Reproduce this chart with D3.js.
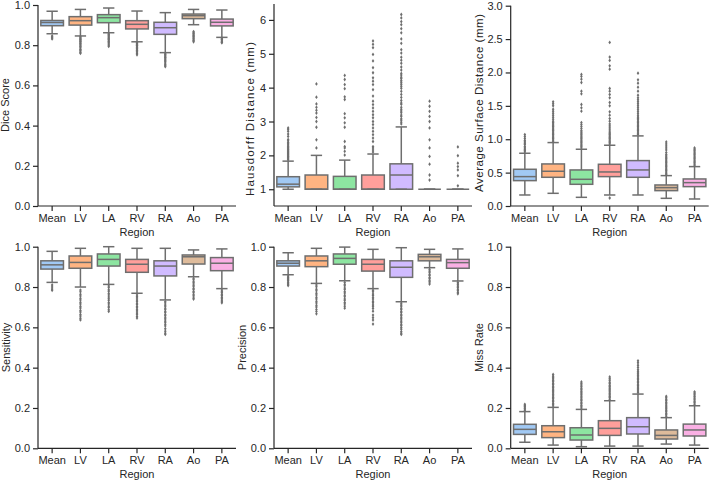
<!DOCTYPE html>
<html><head><meta charset="utf-8">
<script src="https://cdn.jsdelivr.net/npm/d3@7"></script>
<style>
body{margin:0;background:#fff;}
svg text{font-family:"Liberation Sans",Arial,sans-serif;fill:#262626;}
</style></head>
<body><svg id="c" width="709" height="481"></svg>
<script>
// ---------- DATA ----------
const regions = ["Mean","LV","LA","RV","RA","Ao","PA"];

// [lower whisker, Q1, median, Q3, upper whisker]
const diceStats = [[0.857,0.897,0.913,0.923,0.969],[0.846,0.900,0.922,0.942,0.978],[0.862,0.912,0.937,0.952,0.985],[0.817,0.881,0.904,0.922,0.970],[0.763,0.854,0.887,0.914,0.962],[0.902,0.932,0.947,0.955,0.978],[0.839,0.896,0.914,0.930,0.975]];
const diceOutliers = [
 [0.846,0.841,0.836,0.831],
 [0.843,0.838,0.833,0.829,0.826,0.821,0.818,0.812,0.808,0.804,0.797,0.793,0.787,0.780,0.776,0.771,0.764,0.760],
 [0.858,0.853,0.850,0.845,0.840,0.835,0.831,0.827,0.821,0.817,0.812,0.806,0.800,0.794],
 [0.813,0.809,0.804,0.800,0.797,0.791,0.786,0.781,0.775,0.771,0.766,0.759,0.752],
 [0.758,0.754,0.749,0.743,0.739,0.735,0.728,0.723,0.718,0.711,0.704,0.698,0.693],
 [0.868,0.862,0.858,0.852,0.847,0.843,0.837,0.832,0.826,0.822,0.817],
 [0.835,0.830,0.826,0.820,0.815,0.812]];

const hausStats = [[1.0,1.07,1.15,1.37,1.83],[1.0,1.0,1.0,1.42,2.0],[1.0,1.0,1.0,1.38,1.86],[1.0,1.0,1.0,1.42,2.04],[1.0,1.0,1.42,1.75,2.84],[1.0,1.0,1.0,1.0,1.0],[1.0,1.0,1.0,1.0,1.0]];
const hausOutliers = [
 [1.87,1.9,1.94,1.97,1.99,2.03,2.05,2.09,2.11,2.15,2.17,2.21,2.24,2.27,2.31,2.34,2.38,2.43,2.47,2.56,2.63,2.71,2.77,2.81],
 [2.22,2.46,2.83,3.0,3.12,3.25,3.33,3.42,3.52,3.72,4.11],
 [2.01,2.12,2.22,2.26,2.41,2.83,2.96,3.11,3.23,3.65,3.73,3.97,4.09,4.24,4.36],
 [2.1,2.16,2.22,2.26,2.41,2.51,2.61,2.71,2.81,2.91,3.0,3.11,3.2,3.3,3.4,3.5,3.6,3.75,3.94,4.09,4.19,4.29,4.44,4.59,4.79,4.98,5.18,5.28,5.38],
 [2.93,2.98,3.04,3.08,3.15,3.19,3.26,3.31,3.36,3.42,3.51,3.55,3.62,3.71,3.8,3.89,3.98,4.04,4.1,4.16,4.21,4.27,4.31,4.37,4.42,4.52,4.61,4.72,4.81,4.9,5.02,5.12,5.31,5.44,5.62,5.74,5.86,5.95,6.06,6.16],
 [1.27,1.42,1.74,1.97,2.22,2.46,2.81,3.0,3.15,3.3,3.45,3.6],
 [1.1,1.4,1.57,1.67,1.77,1.99,2.25]];

const asdStats = [[0.165,0.38,0.44,0.55,0.79],[0.19,0.43,0.52,0.63,0.95],[0.13,0.325,0.40,0.54,0.85],[0.165,0.44,0.51,0.625,0.91],[0.165,0.43,0.54,0.68,1.05],[0.115,0.23,0.275,0.315,0.455],[0.105,0.29,0.35,0.405,0.59]];
const asdOutliers = [
 [0.81,0.83,0.85,0.87,0.89,0.92,0.94,0.96,0.98,1.01,1.04,1.07],
 [0.97,0.99,1.01,1.03,1.05,1.07,1.09,1.11,1.13,1.15,1.17,1.19,1.21,1.23,1.25,1.27,1.3,1.33,1.36,1.39,1.42,1.45,1.5,1.53,1.56],
 [0.87,0.89,0.91,0.93,0.95,0.97,0.99,1.01,1.03,1.05,1.07,1.09,1.11,1.13,1.16,1.19,1.22,1.25,1.42,1.47,1.52,1.68,1.72,1.85,1.9,1.94,1.97],
 [0.12,0.93,0.95,0.97,0.99,1.01,1.03,1.05,1.07,1.09,1.11,1.14,1.17,1.2,1.23,1.27,1.31,1.36,1.41,1.5,1.55,1.62,1.67,1.72,1.76,2.05,2.1,2.18,2.23,2.45],
 [1.07,1.09,1.11,1.13,1.15,1.17,1.19,1.21,1.23,1.25,1.27,1.29,1.31,1.33,1.35,1.38,1.41,1.44,1.47,1.5,1.53,1.56,1.59,1.62,1.66,1.72,1.78,1.84,1.89,1.99],
 [0.47,0.49,0.51,0.53,0.55,0.57,0.59,0.61,0.63,0.65,0.67,0.69,0.71,0.73,0.75,0.77,0.8,0.84,0.87,0.9,0.93,0.96],
 [0.61,0.63,0.65,0.67,0.69,0.71,0.73,0.75,0.77,0.79,0.81,0.83,0.85,0.87]];

const sensStats = [[0.823,0.889,0.91,0.93,0.977],[0.80,0.893,0.922,0.954,0.992],[0.813,0.904,0.937,0.964,1.0],[0.769,0.873,0.913,0.937,0.992],[0.736,0.855,0.904,0.930,0.992],[0.851,0.914,0.95,0.959,0.984],[0.792,0.881,0.918,0.946,0.989]];
const sensOutliers = [
 [0.81,0.80,0.79,0.784],
 [0.785,0.776,0.764,0.756,0.744,0.736,0.724,0.716,0.704,0.696,0.684,0.676,0.664,0.656,0.645,0.637],
 [0.805,0.797,0.786,0.779,0.768,0.761,0.751,0.742,0.734,0.723,0.716,0.705,0.698,0.687,0.679],
 [0.761,0.752,0.745,0.735,0.729,0.719,0.713,0.703,0.697,0.687,0.681,0.671,0.665,0.654,0.646],
 [0.728,0.721,0.711,0.705,0.695,0.689,0.679,0.673,0.663,0.657,0.647,0.641,0.631,0.625,0.615,0.607,0.593,0.581,0.571,0.565],
 [0.843,0.836,0.826,0.82,0.81,0.804,0.794,0.788,0.778,0.772,0.762,0.756,0.746,0.74],
 [0.785,0.777,0.772,0.763,0.758,0.749,0.744,0.735,0.73,0.722]];

const precStats = [[0.861,0.904,0.918,0.930,0.970],[0.818,0.901,0.930,0.954,0.992],[0.831,0.913,0.942,0.964,0.998],[0.792,0.879,0.913,0.937,0.987],[0.727,0.848,0.898,0.930,0.995],[0.896,0.930,0.950,0.962,0.987],[0.830,0.893,0.921,0.937,0.989]];
const precOutliers = [
 [0.855,0.848,0.843,0.836,0.831,0.824,0.819,0.812,0.807],
 [0.81,0.801,0.789,0.781,0.769,0.761,0.749,0.741,0.729,0.721,0.709,0.701,0.689,0.679,0.667],
 [0.823,0.813,0.806,0.795,0.788,0.777,0.77,0.759,0.752,0.741,0.734,0.723,0.716,0.705,0.695],
 [0.784,0.776,0.765,0.758,0.747,0.74,0.729,0.722,0.711,0.704,0.694,0.68,0.661,0.648,0.636,0.616],
 [0.72,0.711,0.705,0.695,0.689,0.679,0.673,0.663,0.657,0.647,0.641,0.631,0.625,0.615,0.609,0.599,0.591,0.579,0.571,0.565],
 [0.888,0.879,0.873,0.863,0.857,0.847,0.841,0.831,0.825,0.815],
 [0.823,0.815,0.81,0.801,0.796,0.787,0.782,0.773,0.766]];

const missStats = [[0.030,0.069,0.094,0.119,0.182],[0.016,0.053,0.082,0.112,0.203],[0.008,0.041,0.066,0.102,0.193],[0.011,0.064,0.099,0.137,0.236],[0.011,0.071,0.107,0.152,0.269],[0.021,0.046,0.064,0.091,0.152],[0.016,0.061,0.091,0.120,0.211]];
const missOutliers = [
 [0.188,0.195,0.2,0.207,0.212,0.218],
 [0.21,0.218,0.224,0.232,0.238,0.246,0.252,0.26,0.266,0.274,0.28,0.288,0.294,0.302,0.308,0.316,0.322,0.33,0.336,0.344,0.35,0.358,0.366],
 [0.2,0.208,0.214,0.222,0.228,0.236,0.242,0.25,0.256,0.264,0.27,0.278,0.284,0.292,0.298,0.306,0.314,0.322,0.329],
 [0.243,0.251,0.257,0.265,0.271,0.279,0.285,0.293,0.299,0.307,0.313,0.321,0.328,0.337,0.345,0.354],
 [0.276,0.284,0.29,0.298,0.304,0.312,0.318,0.326,0.332,0.34,0.346,0.354,0.36,0.368,0.374,0.382,0.39,0.401,0.412,0.424,0.434],
 [0.159,0.167,0.173,0.181,0.187,0.195,0.201,0.209,0.215,0.223,0.229,0.237,0.243,0.251,0.258],
 [0.218,0.226,0.232,0.24,0.246,0.254,0.26,0.268,0.274,0.28]];

const diceTicks = [0,0.2,0.4,0.6,0.8,1.0];
const hausTicks = [1,2,3,4,5,6];
const asdTicks = [0,0.5,1.0,1.5,2.0,2.5,3.0];
const rateTicks = [0,0.2,0.4,0.6,0.8,1.0];

const yTitles = ["Dice Score","Hausdorff Distance (mm)","Average Surface Distance (mm)","Sensitivity","Precision","Miss Rate"];
const xTitle = "Region";

// ---------- STYLE / LAYOUT ----------
const palette = ["#a1c9f4","#ffb482","#8de5a1","#ff9f9b","#d0bbff","#debb9b","#fab0e4"];
const lineCol = "#6e6e6e";
const axisCol = "#262626";

const panels = [
 {x:38, top:5, bot:206, dom:[0,1], ticks:diceTicks, fmt:d3.format(".1f"), stats:diceStats, out:diceOutliers, title:yTitles[0], tOff:-33, tY:105, tLen:null},
 {x:274, top:4, bot:206, dom:[0.505,6.47], ticks:hausTicks, fmt:d3.format("d"), stats:hausStats, out:hausOutliers, title:yTitles[1], tOff:-24, tY:119, tLen:154},
 {x:510.7, top:5.7, bot:206, dom:[0,3], ticks:asdTicks, fmt:d3.format(".1f"), stats:asdStats, out:asdOutliers, title:yTitles[2], tOff:-32, tY:103, tLen:178},
 {x:38, top:246.7, bot:448.3, dom:[0,1], ticks:rateTicks, fmt:d3.format(".1f"), stats:sensStats, out:sensOutliers, title:yTitles[3], tOff:-32, tY:347.5, tLen:null},
 {x:274, top:246.7, bot:448.3, dom:[0,1], ticks:rateTicks, fmt:d3.format(".1f"), stats:precStats, out:precOutliers, title:yTitles[4], tOff:-32, tY:347.5, tLen:null},
 {x:510.7, top:246.7, bot:448.3, dom:[0,1], ticks:rateTicks, fmt:d3.format(".1f"), stats:missStats, out:missOutliers, title:yTitles[5], tOff:-32, tY:347.5, tLen:null}
];
const W = 198;

const svg = d3.select("#c");
const diamond = "M0,-1.9L1.3,0L0,1.9L-1.3,0Z";

panels.forEach(p => {
  const g = svg.append("g");
  const x = d3.scaleBand().domain(regions).range([p.x, p.x + W]).paddingInner(0).paddingOuter(0);
  const y = d3.scaleLinear().domain(p.dom).range([p.bot, p.top]);
  const bw = x.bandwidth() * 0.8;
  const cw = bw * 0.5;

  regions.forEach((r, i) => {
    const [lo, q1, md, q3, hi] = p.stats[i];
    const cx = x(r) + x.bandwidth() / 2;
    const bg = g.append("g");
    bg.append("line").attr("x1", cx).attr("x2", cx).attr("y1", y(q3)).attr("y2", y(hi))
      .attr("stroke", lineCol).attr("stroke-width", 1.5);
    bg.append("line").attr("x1", cx).attr("x2", cx).attr("y1", y(q1)).attr("y2", y(lo))
      .attr("stroke", lineCol).attr("stroke-width", 1.5);
    bg.append("rect").attr("x", cx - bw / 2).attr("width", bw)
      .attr("y", y(q3)).attr("height", Math.max(0, y(q1) - y(q3)))
      .attr("fill", palette[i]).attr("stroke", lineCol).attr("stroke-width", 1.5);
    bg.append("line").attr("x1", cx - bw / 2).attr("x2", cx + bw / 2).attr("y1", y(md)).attr("y2", y(md))
      .attr("stroke", lineCol).attr("stroke-width", 1.5);
    [lo, hi].forEach(v => bg.append("line").attr("x1", cx - cw / 2).attr("x2", cx + cw / 2)
      .attr("y1", y(v)).attr("y2", y(v)).attr("stroke", lineCol).attr("stroke-width", 1.5));
    bg.selectAll("path.f").data(p.out[i]).join("path").attr("class", "f")
      .attr("d", diamond).attr("transform", v => `translate(${cx},${y(v)})`)
      .attr("fill", lineCol);
  });

  const ya = d3.axisLeft(y).tickValues(p.ticks).tickFormat(p.fmt).tickSize(5).tickPadding(3);
  const yg = g.append("g").attr("transform", `translate(${p.x},0)`).call(ya);
  yg.select(".domain").attr("d", `M0,${p.top}V${p.bot}`);
  const xa = d3.axisBottom(x).tickSize(5).tickPadding(3);
  const xg = g.append("g").attr("transform", `translate(0,${p.bot})`).call(xa);
  xg.select(".domain").attr("d", `M${p.x},0H${p.x + W}`);
  [yg, xg].forEach(a => {
    a.select(".domain").attr("stroke", axisCol).attr("stroke-width", 1.2);
    a.selectAll(".tick line").attr("stroke", axisCol).attr("stroke-width", 1.2);
    a.selectAll(".tick text").attr("font-size", 11).attr("fill", axisCol)
      .style("font-family", '"Liberation Sans", Arial, sans-serif');
  });
  g.append("text").attr("x", p.x + W / 2).attr("y", p.bot + 30).attr("text-anchor", "middle")
    .attr("font-size", 11).text(xTitle);
  const t = g.append("text").attr("transform", `translate(${p.x + p.tOff},${p.tY}) rotate(-90)`)
    .attr("text-anchor", "middle").attr("dy", "0.35em").attr("font-size", p.tLen ? 11.5 : 11).text(p.title);
  if (p.tLen) t.attr("textLength", p.tLen).attr("lengthAdjust", "spacing");
});
</script></body></html>
